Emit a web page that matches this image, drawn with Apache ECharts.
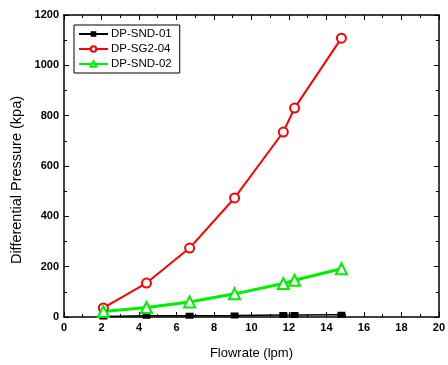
<!DOCTYPE html>
<html><head><meta charset="utf-8">
<script src="https://cdn.jsdelivr.net/npm/echarts@6/dist/echarts.min.js"></script>
<style>html,body{margin:0;padding:0;background:#fff}#c{width:448px;height:365px}</style>
</head><body><div id="c"></div>
<script>
const flow = [2.1, 4.4, 6.7, 9.1, 11.7, 12.3, 14.8];
const sndA = [2, 5, 5, 6, 8, 8, 9];
const sg2 = [36, 135, 274, 473, 735, 830, 1108];
const sndB = [22, 38, 60, 92, 133, 146, 192];
const names = ['DP-SND-01', 'DP-SG2-04', 'DP-SND-02'];
const F = 'Liberation Sans, Arial, sans-serif';
function pairs(y){ return flow.map((x,i)=>[x,y[i]]); }
const axLine = {show:true, onZero:false, lineStyle:{color:'#000', width:1.5}};
const tick = {show:true, inside:true, length:5, lineStyle:{color:'#000'}};
const minor = {show:true, splitNumber:2, length:3, lineStyle:{color:'#000'}};
const lab = {color:'#000', fontFamily:F, fontSize:11, fontWeight:'bold', margin:5, formatter:v=>String(v)};
const chart = echarts.init(document.getElementById('c'));
chart.setOption({
  animation:false,
  textStyle:{fontFamily:F},
  grid:{left:64, right:8, top:15, bottom:48},
  legend:{
    data:names, orient:'vertical', left:74, top:25,
    borderColor:'#000', borderWidth:1, padding:[3,8,3,4], itemGap:3,
    itemWidth:29, itemHeight:7,
    textStyle:{fontFamily:F, fontSize:11.5, color:'#000', padding:[0,0,0,-2]}
  },
  xAxis:[{
    type:'value', min:0, max:20, interval:2,
    name:'Flowrate (lpm)', nameLocation:'middle', nameGap:30,
    nameTextStyle:{fontFamily:F, fontSize:13, color:'#000'},
    axisLine:axLine, axisTick:tick, minorTick:minor, splitLine:{show:false},
    axisLabel:lab
  },{
    type:'value', min:0, max:20, interval:2, position:'top',
    axisLine:axLine, axisTick:tick, minorTick:minor, splitLine:{show:false}, axisLabel:{show:false}
  }],
  yAxis:[{
    type:'value', min:0, max:1200, interval:200,
    name:'Differential Pressure (kpa)', nameLocation:'middle', nameGap:40, nameMoveOverlap:false,
    nameTextStyle:{fontFamily:F, fontSize:14.5, color:'#000', padding:[0,28,0,0]},
    axisLine:axLine, axisTick:tick, minorTick:minor, splitLine:{show:false},
    axisLabel:lab
  },{
    type:'value', min:0, max:1200, interval:200, position:'right',
    axisLine:axLine, axisTick:tick, minorTick:minor, splitLine:{show:false}, axisLabel:{show:false}
  }],
  series:[
    {name:names[0], type:'line', data:pairs(sndA), symbol:'rect', symbolSize:[8,6],
     lineStyle:{color:'#000', width:1.5}, itemStyle:{color:'#000'}},
    {name:names[1], type:'line', data:pairs(sg2), symbol:'emptyCircle', symbolSize:9,
     lineStyle:{color:'#ff0000', width:2}, itemStyle:{color:'#ff0000', borderColor:'#ff0000', borderWidth:1.2}},
    {name:names[2], type:'line', data:pairs(sndB), symbol:'emptyTriangle', symbolSize:11,
     lineStyle:{color:'#00ee00', width:3}, itemStyle:{color:'#00ee00', borderColor:'#00ee00', borderWidth:1.2}}
  ]
});
</script></body></html>
